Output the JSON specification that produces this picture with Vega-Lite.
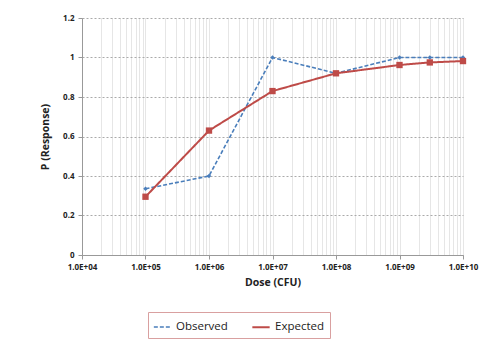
{
  "$schema": "https://vega.github.io/schema/vega-lite/v6.json",
  "width": 381,
  "height": 237,
  "autosize": {"type": "none"},
  "padding": {"left": 82, "top": 18, "right": 20, "bottom": 84},
  "background": "white",
  "config": {
    "view": {"stroke": null},
    "font": "Open Sans",
    "axis": {
      "labelFont": "Open Sans", "labelFontSize": 8, "labelFontWeight": "bold", "labelColor": "#222",
      "titleFont": "Open Sans", "titleFontSize": 10.5, "titleFontWeight": "bold", "titleColor": "#222",
      "domainColor": "#999", "tickColor": "#999"
    }
  },
  "data": {"values": [
    {"dose": 1e5, "p": 0.335, "series": "Observed"},
    {"dose": 1e6, "p": 0.40, "series": "Observed"},
    {"dose": 1e7, "p": 1.0, "series": "Observed"},
    {"dose": 1e8, "p": 0.92, "series": "Observed"},
    {"dose": 1e9, "p": 1.0, "series": "Observed"},
    {"dose": 3e9, "p": 1.0, "series": "Observed"},
    {"dose": 1e10, "p": 1.0, "series": "Observed"},
    {"dose": 1e5, "p": 0.295, "series": "Expected"},
    {"dose": 1e6, "p": 0.63, "series": "Expected"},
    {"dose": 1e7, "p": 0.83, "series": "Expected"},
    {"dose": 1e8, "p": 0.92, "series": "Expected"},
    {"dose": 1e9, "p": 0.962, "series": "Expected"},
    {"dose": 3e9, "p": 0.975, "series": "Expected"},
    {"dose": 1e10, "p": 0.982, "series": "Expected"}
  ]},
  "encoding": {
    "x": {"field": "dose", "type": "quantitative",
      "scale": {"type": "log", "domain": [10000, 10000000000], "nice": false},
      "axis": {"title": "Dose (CFU)", "titlePadding": 6, "tickSize": 4, "labelPadding": 4,
        "gridColor": "#cccccc", "gridDash": [1, 1], "gridWidth": 1,
        "values": [10000,20000,30000,40000,50000,60000,70000,80000,90000,
                   100000,200000,300000,400000,500000,600000,700000,800000,900000,
                   1000000,2000000,3000000,4000000,5000000,6000000,7000000,8000000,9000000,
                   10000000,20000000,30000000,40000000,50000000,60000000,70000000,80000000,90000000,
                   100000000,200000000,300000000,400000000,500000000,600000000,700000000,800000000,900000000,
                   1000000000,2000000000,3000000000,4000000000,5000000000,6000000000,7000000000,8000000000,9000000000,
                   10000000000],
        "labelExpr": "abs(log(datum.value)/LN10 - round(log(datum.value)/LN10)) < 0.000001 ? '1.0E+' + (round(log(datum.value)/LN10) < 10 ? '0' : '') + round(log(datum.value)/LN10) : ''",
        "tickOpacity": {"expr": "abs(log(datum.value)/LN10 - round(log(datum.value)/LN10)) < 0.000001 ? 1 : 0"},
        "labelOverlap": false, "labelFlush": false}},
    "y": {"field": "p", "type": "quantitative",
      "scale": {"domain": [0, 1.2], "nice": false},
      "axis": {"title": "P (Response)", "values": [0, 0.2, 0.4, 0.6, 0.8, 1, 1.2], "format": "~g",
        "gridColor": "#aaaaaa", "gridDash": [2, 2], "gridWidth": 1,
        "tickSize": 4, "labelPadding": 4, "titlePadding": 12}},
    "color": {"field": "series", "type": "nominal",
      "scale": {"domain": ["Observed", "Expected"], "range": ["#4a7ebb", "#be4b48"]},
      "legend": {"title": null, "orient": "none", "legendX": 66, "legendY": 294, "direction": "horizontal",
        "strokeColor": "#d9a0a0", "padding": 5, "labelFont": "Open Sans", "labelFontSize": 11.5,
        "labelColor": "#222", "symbolType": "stroke", "symbolSize": 300, "symbolStrokeWidth": 2, "columnPadding": 20}}
  },
  "layer": [
    {"mark": {"type": "line"},
     "encoding": {
       "strokeDash": {"field": "series", "type": "nominal",
         "scale": {"domain": ["Observed", "Expected"], "range": [[4, 2], [1, 0]]}},
       "strokeWidth": {"field": "series", "type": "nominal",
         "scale": {"domain": ["Observed", "Expected"], "range": [1.6, 2]}, "legend": null}
     }},
    {"transform": [{"filter": "datum.series === 'Observed'"}],
     "mark": {"type": "point", "filled": true, "opacity": 1, "shape": "diamond", "size": 20}},
    {"transform": [{"filter": "datum.series === 'Expected'"}],
     "mark": {"type": "point", "filled": true, "opacity": 1, "shape": "square", "size": 40}}
  ]
}
